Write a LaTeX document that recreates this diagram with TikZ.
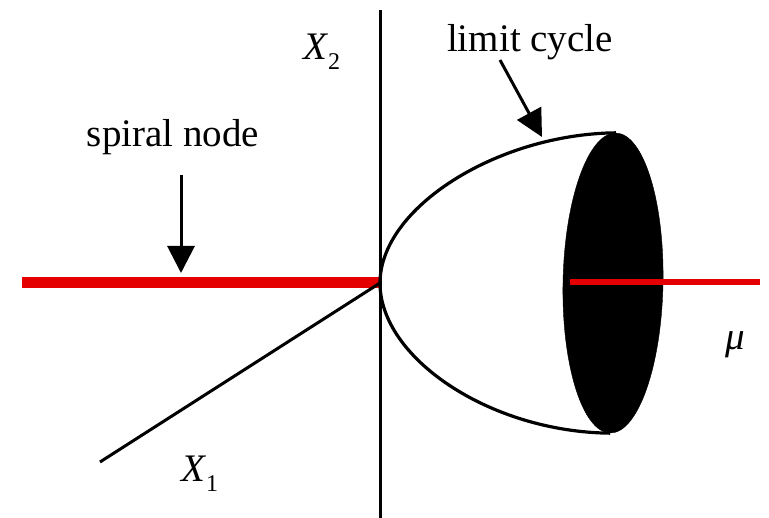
\documentclass[tikz,border=0pt]{standalone}
\usepackage{fontspec}
\setmainfont{Liberation Serif}
\usetikzlibrary{arrows.meta,shapes.geometric}
\definecolor{axred}{RGB}{228,0,0}
\begin{document}
\begin{tikzpicture}[x=1pt,y=-1pt,
  axisline/.style={line width=3pt, black},
  redthick/.style={line width=11pt, axred},
  redthin/.style={line width=6pt, axred},
  cyclecurve/.style={line width=3.2pt, black},
  pointer/.style={line width=3pt, -{Triangle[width=27pt,length=27pt]}},
  lbl/.style={font=\fontsize{39}{46}\selectfont, inner sep=0pt}]
\useasboundingbox (0,0) rectangle (769,518);
% coordinates
\coordinate (ytop) at (380,10);
\coordinate (ybot) at (380,518);
\coordinate (O) at (380,283);
\coordinate (redleft) at (22,283);
\coordinate (x1end) at (100,462);
\coordinate (mustart) at (570,282);
\coordinate (muend) at (760,282);
\coordinate (snA) at (181,175);
\coordinate (snB) at (181,273);
\coordinate (lcA) at (500,60);
\coordinate (lcB) at (542,137);
% disk node (drawn later)
\path node[ellipse, minimum width=100pt, minimum height=300pt, inner sep=0pt, rotate=-1.1] (disk) at (613,283) {};
% red thick line
\draw[redthick] (redleft) -- (O);
% axes
\draw[axisline] (ytop) -- (ybot);
\draw[axisline] (x1end) -- (O);
% limit cycle surface outline
\draw[cyclecurve] (disk.north) .. controls (497,134) and (380,208) .. (O)
                  .. controls (380,358) and (490,432) .. (disk.south);
% filled disk
\node[ellipse, fill=black, draw=black, minimum width=100pt, minimum height=300pt, inner sep=0pt, rotate=-1.1] (diskfill) at (613,283) {};
% thin red mu axis
\draw[redthin] (mustart) -- (muend);
% labels
\node[lbl, anchor=base] (sn) at (173,147) {spiral node};
\node[lbl, anchor=base] (lc) at (530,52) {limit cycle};
\node[lbl, anchor=base west] (x2) at (303,60) {\itshape X\kern1pt\raisebox{-10pt}{\upshape\fontsize{24}{28}\selectfont 2}};
\node[lbl, anchor=base west] (x1) at (181,482) {\itshape X\kern1pt\raisebox{-10pt}{\upshape\fontsize{24}{28}\selectfont 1}};
\node[lbl, anchor=base] (mu) at (735,350) {\itshape μ};
% pointers
\draw[pointer] (snA) -- (snB);
\draw[pointer] (lcA) -- (lcB);
\end{tikzpicture}
\end{document}
